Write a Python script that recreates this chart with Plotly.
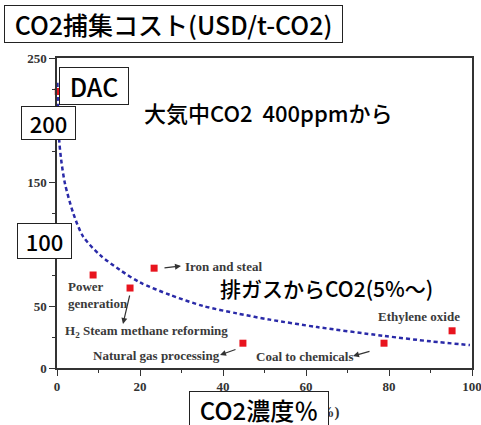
import plotly.graph_objects as go

# ---- data ----
source_names = ["DAC", "Power generation", "H2 Steam methane reforming", "Iron and steal",
                "Natural gas processing", "Coal to chemicals", "Ethylene oxide"]
source_conc = [0.3, 8.7, 17.6, 23.4, 44.8, 78.8, 95.2]
source_cost = [223, 75, 64.5, 80.5, 20, 20, 30]

trend_conc = [0.1, 0.5, 1.0, 1.9, 3.9, 6.3, 10.4, 15.2, 20, 27.2, 35.2, 43.4, 51.3, 62.7, 78.5, 90, 99.5]
trend_cost = [230, 185, 168, 149, 125, 106, 91, 79, 69, 59, 50, 44, 39, 33, 26, 21.5, 18.5]

x_ticks = [0, 20, 40, 60, 80, 100]
y_ticks = [0, 50, 100, 150, 200, 250]

# ---- geometry helpers (pixel -> paper) ----
L, R, T, B = 57, 472, 58, 368
W, H = 481, 425
def PX(x):
    return (x - L) / (R - L)
def PY(y):
    return (B - y) / (B - T)

JP = "Noto Sans CJK JP"
SERIF = "Liberation Serif"

fig = go.Figure()
fig.add_trace(go.Scatter(
    x=trend_conc, y=trend_cost, mode="lines",
    line=dict(color="#2a2aa8", width=2.5, dash="4px,3px", shape="spline", smoothing=0.8),
    hoverinfo="skip", showlegend=False))
fig.add_trace(go.Scatter(
    x=source_conc, y=source_cost, mode="markers", text=source_names,
    marker=dict(symbol="square", size=7, color="#e8141e"),
    cliponaxis=False, showlegend=False))

ann = []

def box(text, x0, x1, y0, y1, size):
    ann.append(dict(text=text, xref="paper", yref="paper",
                    x=PX((x0 + x1) / 2), y=PY((y0 + y1) / 2),
                    xanchor="center", yanchor="middle",
                    width=x1 - x0 - 2, height=y1 - y0 - 2, borderpad=0,
                    showarrow=False, bgcolor="white", bordercolor="#222", borderwidth=1,
                    align="center", valign="middle",
                    font=dict(family=JP, size=size, color="black", weight=500)))

def label(text, x, y, size=13, anchor="left"):
    ann.append(dict(text=text, xref="paper", yref="paper", x=PX(x), y=PY(y),
                    xanchor=anchor, yanchor="middle", showarrow=False, align="left",
                    font=dict(family=SERIF, size=size, color="#3a3a3a", weight="bold")))

def arrow(hx, hy, tx, ty):
    ann.append(dict(text="", xref="paper", yref="paper", x=PX(hx), y=PY(hy),
                    ax=tx - hx, ay=ty - hy, axref="pixel", ayref="pixel",
                    showarrow=True, arrowhead=2, arrowsize=1, arrowwidth=1.2,
                    arrowcolor="#333", standoff=0, startstandoff=0))

# data labels
label("Iron and steal", 183, 266)
label("Power", 66, 286)
label("generation", 66, 303)
label("H<sub>2</sub> Steam methane reforming", 63, 331)
label("Natural gas processing", 91, 355)
label("Coal to chemicals", 254, 356)
label("Ethylene oxide", 376, 316)

arrow(181, 266, 163, 268)
arrow(123, 324, 130, 294)
arrow(220, 355, 237, 349)
arrow(353, 356, 371, 351)

# hidden original axis title
ann.append(dict(text="CO<sub>2</sub> concentration (%)", xref="paper", yref="paper",
                x=PX(265), y=PY(413), xanchor="center", yanchor="middle", showarrow=False,
                font=dict(family=SERIF, size=15, color="#333", weight="bold")))

# overlay texts
ann.append(dict(text="大気中CO2  400ppmから", xref="paper", yref="paper",
                x=PX(142), y=PY(112), xanchor="left", yanchor="middle", showarrow=False,
                font=dict(family=JP, size=22, color="black", weight=500)))
ann.append(dict(text="排ガスからCO2(5%～)", xref="paper", yref="paper",
                x=PX(218), y=PY(288), xanchor="left", yanchor="middle", showarrow=False,
                font=dict(family=JP, size=21, color="black", weight=500)))

# boxes
box("CO2捕集コスト(USD/t-CO2)", 4, 343, 5, 43, 25)
box("DAC", 59, 129, 67, 105, 25)
box("200", 21, 76, 106, 140, 22)
box("100", 17, 72, 223, 259, 22)
box("CO2濃度％", 189, 329, 391, 428, 24)

axis_common = dict(showline=True, linecolor="#333", linewidth=1.5, mirror=True,
                   ticks="outside", ticklen=6, tickwidth=1.2, tickcolor="#333",
                   showgrid=False, zeroline=False, automargin=False,
                   ticklabeloverflow="allow",
                   tickfont=dict(family=SERIF, size=13, color="#333", weight="bold"))

fig.update_layout(
    width=W, height=H, autosize=False,
    margin=dict(l=L, r=W - R, t=T, b=H - B),
    paper_bgcolor="white", plot_bgcolor="white",
    xaxis=dict(range=[0, 100], tickvals=x_ticks, ticktext=[str(v) for v in x_ticks],
               minor=dict(ticks="outside", dtick=10, ticklen=3, tickcolor="#333"),
               **axis_common),
    yaxis=dict(range=[0, 250], tickvals=y_ticks, ticktext=[str(v) for v in y_ticks],
               minor=dict(ticks="outside", dtick=25, ticklen=3, tickcolor="#333"),
               **axis_common),
    annotations=ann,
)

fig.write_html(
    "out.html",
    config={"responsive": False, "displayModeBar": False},
    post_script=("document.documentElement.style.overflow='hidden';"
                 "document.body.style.margin='0px';document.body.style.overflow='hidden';"),
)
